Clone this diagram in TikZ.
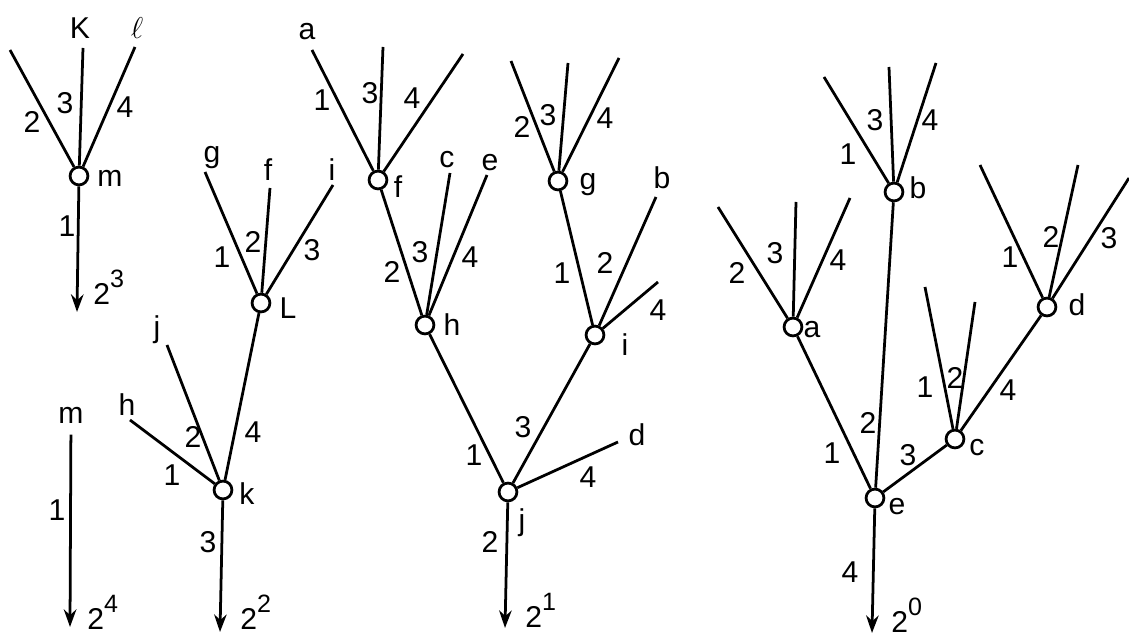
\documentclass[tikz,border=0pt]{standalone}
\usepackage{fontspec}
\setmainfont{Liberation Sans}
\usetikzlibrary{arrows.meta}
\tikzset{
  knot/.style={circle,draw,fill=white,inner sep=0pt,minimum size=0.25cm},
  lbl/.style={inner sep=1pt},
  pow/.style={inner sep=0pt,anchor=base west},
}
\newcommand{\twopow}[1]{2\raisebox{1.1ex}{\normalsize #1}}
\begin{document}
\begin{tikzpicture}[x=0.014cm,y=-0.014cm,line width=1.1pt,font=\large,>={Stealth[length=7pt,width=5pt]}]
\useasboundingbox (0,0) rectangle (1129,637);
% tree of m
\node[knot] (m) at (79,176) {};
\coordinate (m2) at (10,50);
\coordinate (m3) at (83,48);
\coordinate (m4) at (135,47);
\coordinate (m1) at (77,312);
\draw (m) -- (m2);
\draw (m) -- (m3);
\draw (m) -- (m4);
\draw[->] (m) -- (m1);
\node[lbl] (lm) at (110,178) {m};
\node[lbl] (lK) at (80,28) {K};
\node[lbl] (ll) at (137,28) {$\ell$};
\node[lbl] (nm2) at (32,122) {2};
\node[lbl] (nm3) at (65,103) {3};
\node[lbl] (nm4) at (125,107) {4};
\node[lbl] (nm1) at (67,226) {1};
\node[pow] (pm) at (92,305) {\twopow{3}};
% single m
\node[lbl] (mm) at (71,415) {m};
\coordinate (mm1) at (70,627);
\draw[->,shorten <=3pt] (mm) -- (mm1);
\node[lbl] (nmm1) at (57,510) {1};
\node[pow] (pmm) at (86,630) {\twopow{4}};
% tree of k and L
\node[knot] (k) at (223,490) {};
\node[knot] (L) at (261,303) {};
\coordinate (kh) at (130,420);
\coordinate (kj) at (167,345);
\coordinate (k3) at (220,632);
\draw (k) -- (kh);
\draw (k) -- (kj);
\draw (k) -- (L);
\draw[->] (k) -- (k3);
\coordinate (Lg) at (205,172);
\coordinate (Lf) at (270,188);
\coordinate (Li) at (333,185);
\draw (L) -- (Lg);
\draw (L) -- (Lf);
\draw (L) -- (Li);
\node[lbl] (lk) at (247,494) {k};
\node[lbl] (lh) at (127,405) {h};
\node[lbl] (lj) at (157,330) {j};
\node[lbl] (nk1) at (172,475) {1};
\node[lbl] (nk2) at (193,437) {2};
\node[lbl] (nk4) at (253,432) {4};
\node[lbl] (nk3) at (208,542) {3};
\node[pow] (pk) at (239,630) {\twopow{2}};
\node[lbl] (lL) at (288,308) {L};
\node[lbl] (lg) at (212,158) {g};
\node[lbl] (lf) at (268,170) {f};
\node[lbl] (li) at (332,170) {i};
\node[lbl] (nL1) at (222,257) {1};
\node[lbl] (nL2) at (253,242) {2};
\node[lbl] (nL3) at (312,250) {3};
% tree of j
\node[knot] (f) at (378,180) {};
\node[knot] (h) at (425,325) {};
\node[knot] (j) at (508,492) {};
\node[knot] (i) at (595,335) {};
\node[knot] (g) at (558,181) {};
\coordinate (fa) at (312,50);
\coordinate (f3) at (383,47);
\coordinate (f4) at (463,54);
\coordinate (hc) at (450,173);
\coordinate (he) at (487,175);
\coordinate (jd) at (618,442);
\coordinate (j2) at (505,628);
\coordinate (g2) at (511,61);
\coordinate (g3) at (568,63);
\coordinate (g4) at (619,58);
\coordinate (ib) at (656,197);
\coordinate (i4) at (658,282);
\draw (f) -- (fa);
\draw (f) -- (f3);
\draw (f) -- (f4);
\draw (f) -- (h);
\draw (h) -- (hc);
\draw (h) -- (he);
\draw (h) -- (j);
\draw (j) -- (i);
\draw (j) -- (jd);
\draw[->] (j) -- (j2);
\draw (g) -- (g2);
\draw (g) -- (g3);
\draw (g) -- (g4);
\draw (g) -- (i);
\draw (i) -- (ib);
\draw (i) -- (i4);
\node[lbl] (lf2) at (398,187) {f};
\node[lbl] (la) at (307,32) {a};
\node[lbl] (nf1) at (322,100) {1};
\node[lbl] (nf3) at (370,93) {3};
\node[lbl] (nf4) at (412,98) {4};
\node[lbl] (lh2) at (452,325) {h};
\node[lbl] (lc) at (447,160) {c};
\node[lbl] (le) at (490,163) {e};
\node[lbl] (nh3) at (420,252) {3};
\node[lbl] (nh4) at (470,257) {4};
\node[lbl] (nh2) at (392,272) {2};
\node[lbl] (lj2) at (522,523) {j};
\node[lbl] (ld) at (637,435) {d};
\node[lbl] (nj1) at (474,455) {1};
\node[lbl] (nj3) at (523,427) {3};
\node[lbl] (nj4) at (588,477) {4};
\node[lbl] (nj2) at (490,542) {2};
\node[pow] (pj) at (524,628) {\twopow{1}};
\node[lbl] (lg2) at (588,185) {g};
\node[lbl] (ng2) at (522,127) {2};
\node[lbl] (ng3) at (548,115) {3};
\node[lbl] (ng4) at (605,118) {4};
\node[lbl] (ng1) at (562,273) {1};
\node[lbl] (li2) at (625,345) {i};
\node[lbl] (lb) at (662,178) {b};
\node[lbl] (ni2) at (605,263) {2};
\node[lbl] (ni4) at (658,310) {4};
% tree of e
\node[knot] (e) at (875,498) {};
\node[knot] (a) at (793,327) {};
\node[knot] (b) at (894,192) {};
\node[knot] (c) at (955,439) {};
\node[knot] (d) at (1047,307) {};
\coordinate (a2) at (718,207);
\coordinate (a3) at (796,202);
\coordinate (a4) at (850,198);
\coordinate (b1) at (824,77);
\coordinate (b3) at (889,67);
\coordinate (b4) at (936,63);
\coordinate (c1) at (925,287);
\coordinate (c2) at (975,302);
\coordinate (d1) at (980,165);
\coordinate (d2) at (1078,165);
\coordinate (d3) at (1129,178);
\coordinate (e4) at (872,633);
\draw (e) -- (a);
\draw (e) -- (b);
\draw (e) -- (c);
\draw[->] (e) -- (e4);
\draw (a) -- (a2);
\draw (a) -- (a3);
\draw (a) -- (a4);
\draw (b) -- (b1);
\draw (b) -- (b3);
\draw (b) -- (b4);
\draw (c) -- (c1);
\draw (c) -- (c2);
\draw (c) -- (d);
\draw (d) -- (d1);
\draw (d) -- (d2);
\draw (d) -- (d3);
\node[lbl] (le2) at (897,507) {e};
\node[lbl] (la2) at (812,330) {a};
\node[lbl] (na2) at (737,273) {2};
\node[lbl] (na3) at (775,253) {3};
\node[lbl] (na4) at (838,260) {4};
\node[lbl] (ne1) at (832,453) {1};
\node[lbl] (lb2) at (918,188) {b};
\node[lbl] (nb1) at (848,154) {1};
\node[lbl] (nb3) at (875,120) {3};
\node[lbl] (nb4) at (930,120) {4};
\node[lbl] (ne2) at (868,423) {2};
\node[lbl] (lc2) at (977,448) {c};
\node[lbl] (nc1) at (925,387) {1};
\node[lbl] (nc2) at (955,378) {2};
\node[lbl] (ne3) at (908,455) {3};
\node[lbl] (nc4) at (1008,390) {4};
\node[lbl] (ld2) at (1077,305) {d};
\node[lbl] (nd1) at (1010,257) {1};
\node[lbl] (nd2) at (1051,237) {2};
\node[lbl] (nd3) at (1109,238) {3};
\node[lbl] (ne4) at (850,572) {4};
\node[pow] (pe) at (890,633) {\twopow{0}};
\end{tikzpicture}
\end{document}
